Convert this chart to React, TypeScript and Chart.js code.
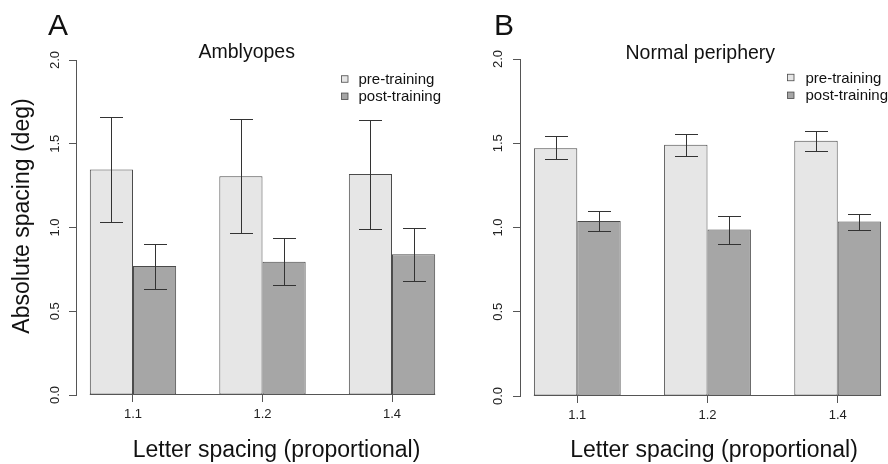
import React, { useEffect, useRef } from 'react';
import { Chart, registerables } from 'chart.js';

Chart.register(...registerables);

const FONT = "'Liberation Sans', Arial, Helvetica, sans-serif";

// ---------- data ----------
const categories = ['1.1', '1.2', '1.4'];
const seriesLabels = ['pre-training', 'post-training'];
const yTickValues = [0, 0.5, 1.0, 1.5, 2.0];
const panelLetters = ['A', 'B'];
const panelTitles = ['Amblyopes', 'Normal periphery'];
const xAxisTitle = 'Letter spacing (proportional)';
const yAxisTitle = 'Absolute spacing (deg)';

const amblyopesPre = [1.347, 1.306, 1.319];
const amblyopesPreLow = [1.031, 0.965, 0.993];
const amblyopesPreHigh = [1.658, 1.646, 1.644];
const amblyopesPost = [0.770, 0.796, 0.840];
const amblyopesPostLow = [0.633, 0.655, 0.683];
const amblyopesPostHigh = [0.903, 0.939, 0.999];

const peripheryPre = [1.471, 1.491, 1.515];
const peripheryPreLow = [1.404, 1.422, 1.453];
const peripheryPreHigh = [1.541, 1.556, 1.574];
const peripheryPost = [1.038, 0.988, 1.036];
const peripheryPostLow = [0.980, 0.903, 0.988];
const peripheryPostHigh = [1.095, 1.066, 1.081];

// ---------- style ----------
const PRE_COLOR = '#e6e6e6';
const POST_COLOR = '#a6a6a6';
const BAR_EDGE = '#4a4a4a';
const AXIS_COLOR = '#555555';
const ERR_COLOR = '#333333';
const TEXT_COLOR = '#111111';
const CAP = 11.5;
const CANVAS_W = 452;
const CANVAS_H = 464;

// bar layout in group units: each group = 2 bars + 1 gap
const groupCenter = (i: number) => 2 + 3 * i;
const X_MIN = 0.68;
const X_MAX = 3 * categories.length + 0.32;

interface PanelSpec {
  letter: string;
  title: string;
  pre: number[];
  post: number[];
  low: number[][];
  high: number[][];
  left: number;
  padTop: number;
  padRight: number;
  axisHeight: number;
  letterX: number;
  letterY: number;
  titleX: number;
  titleY: number;
  legSquareX: number;
  legTextX: number;
  legCenters: number[];
  legBaselines: number[];
  yLabelX: number;
  xTitleX: number;
  xTitleY: number;
  showYTitle: boolean;
}

const panels: PanelSpec[] = [
  {
    letter: panelLetters[0],
    title: panelTitles[0],
    pre: amblyopesPre,
    post: amblyopesPost,
    low: [amblyopesPreLow, amblyopesPostLow],
    high: [amblyopesPreHigh, amblyopesPostHigh],
    left: 0,
    padTop: 60,
    padRight: 3,
    axisHeight: 69,
    letterX: 48,
    letterY: 35,
    titleX: 246.7,
    titleY: 58.3,
    legSquareX: 341.5,
    legTextX: 358.5,
    legCenters: [79, 96.3],
    legBaselines: [83.5, 101],
    yLabelX: 55,
    xTitleX: 276.5,
    xTitleY: 457,
    showYTitle: true,
  },
  {
    letter: panelLetters[1],
    title: panelTitles[1],
    pre: peripheryPre,
    post: peripheryPost,
    low: [peripheryPreLow, peripheryPostLow],
    high: [peripheryPreHigh, peripheryPostHigh],
    left: 444,
    padTop: 59,
    padRight: 1,
    axisHeight: 68,
    letterX: 50,
    letterY: 34.5,
    titleX: 256.3,
    titleY: 59.3,
    legSquareX: 343.5,
    legTextX: 361.5,
    legCenters: [77.5, 95.3],
    legBaselines: [82.5, 100],
    yLabelX: 54,
    xTitleX: 270,
    xTitleY: 457,
    showYTitle: false,
  },
];

function makeDecor(p: PanelSpec) {
  return {
    id: 'decor' + p.letter,
    afterDatasetsDraw(chart: any) {
      const ctx = chart.ctx as CanvasRenderingContext2D;
      const ys = chart.scales.y;
      const metas = chart.data.datasets.map((_: any, i: number) => chart.getDatasetMeta(i));
      ctx.save();
      // baseline across the groups
      const first = metas[0].data[0];
      const lastMeta = metas[metas.length - 1];
      const last = lastMeta.data[lastMeta.data.length - 1];
      const y0 = Math.round(ys.getPixelForValue(0)) - 0.5;
      ctx.strokeStyle = AXIS_COLOR;
      ctx.lineWidth = 1;
      ctx.beginPath();
      ctx.moveTo(first.x - first.width / 2, y0);
      ctx.lineTo(last.x + last.width / 2, y0);
      ctx.stroke();
      // error bars
      ctx.strokeStyle = ERR_COLOR;
      p.low.forEach((lows, di) => {
        metas[di].data.forEach((bar: any, i: number) => {
          const x = Math.round(bar.x) + 0.5;
          const yh = Math.round(ys.getPixelForValue(p.high[di][i])) + 0.5;
          const yl = Math.round(ys.getPixelForValue(lows[i])) + 0.5;
          ctx.beginPath();
          ctx.moveTo(x, yh);
          ctx.lineTo(x, yl);
          ctx.moveTo(x - CAP, yh);
          ctx.lineTo(x + CAP, yh);
          ctx.moveTo(x - CAP, yl);
          ctx.lineTo(x + CAP, yl);
          ctx.stroke();
        });
      });
      ctx.restore();
    },
    afterDraw(chart: any) {
      const ctx = chart.ctx as CanvasRenderingContext2D;
      const ys = chart.scales.y;
      ctx.save();
      ctx.fillStyle = TEXT_COLOR;
      // panel letter
      ctx.font = `30px ${FONT}`;
      ctx.textAlign = 'left';
      ctx.textBaseline = 'alphabetic';
      ctx.fillText(p.letter, p.letterX, p.letterY);
      // title
      ctx.font = `19.5px ${FONT}`;
      ctx.textAlign = 'center';
      ctx.fillText(p.title, p.titleX, p.titleY);
      // legend
      const fills = [PRE_COLOR, POST_COLOR];
      seriesLabels.forEach((lab, i) => {
        const cy = p.legCenters[i];
        ctx.fillStyle = fills[i];
        ctx.fillRect(p.legSquareX, cy - 3.25, 6.5, 6.5);
        ctx.strokeStyle = BAR_EDGE;
        ctx.lineWidth = 0.8;
        ctx.strokeRect(p.legSquareX, cy - 3.25, 6.5, 6.5);
        ctx.fillStyle = TEXT_COLOR;
        ctx.font = `15px ${FONT}`;
        ctx.textAlign = 'left';
        ctx.fillText(lab, p.legTextX, p.legBaselines[i]);
      });
      // y tick labels (rotated)
      ctx.font = `13px ${FONT}`;
      ctx.textAlign = 'center';
      ctx.textBaseline = 'middle';
      ctx.fillStyle = '#222222';
      yTickValues.forEach((v) => {
        const py = ys.getPixelForValue(v);
        ctx.save();
        ctx.translate(p.yLabelX, py);
        ctx.rotate(-Math.PI / 2);
        ctx.fillText(v.toFixed(1), 0, 0);
        ctx.restore();
      });
      // axis titles
      ctx.fillStyle = TEXT_COLOR;
      ctx.font = `23px ${FONT}`;
      ctx.textAlign = 'center';
      ctx.textBaseline = 'alphabetic';
      ctx.fillText(xAxisTitle, p.xTitleX, p.xTitleY);
      if (p.showYTitle) {
        ctx.save();
        ctx.translate(23, 216);
        ctx.rotate(-Math.PI / 2);
        ctx.textBaseline = 'middle';
        ctx.fillText(yAxisTitle, 0, 0);
        ctx.restore();
      }
      ctx.restore();
    },
  };
}

function Panel({ p }: { p: PanelSpec }) {
  const ref = useRef<HTMLCanvasElement | null>(null);
  useEffect(() => {
    if (!ref.current) return;
    const chart = new Chart(ref.current, {
      type: 'bar',
      data: {
        datasets: [
          {
            label: seriesLabels[0],
            data: categories.map((_, i) => ({ x: groupCenter(i), y: p.pre[i] })),
            backgroundColor: PRE_COLOR,
            borderColor: BAR_EDGE,
            borderWidth: 1,
            borderSkipped: false,
            barPercentage: 1,
            categoryPercentage: 2 / 3,
          },
          {
            label: seriesLabels[1],
            data: categories.map((_, i) => ({ x: groupCenter(i), y: p.post[i] })),
            backgroundColor: POST_COLOR,
            borderColor: BAR_EDGE,
            borderWidth: 1,
            borderSkipped: false,
            barPercentage: 1,
            categoryPercentage: 2 / 3,
          },
        ],
      } as any,
      options: {
        responsive: false,
        animation: false,
        layout: { padding: { top: p.padTop, right: p.padRight, left: 0, bottom: 0 } },
        plugins: {
          legend: { display: false },
          tooltip: { enabled: false },
          title: { display: false },
        },
        scales: {
          x: {
            type: 'linear',
            min: X_MIN,
            max: X_MAX,
            offset: false,
            afterBuildTicks: (s: any) => {
              s.ticks = categories.map((_, i) => ({ value: groupCenter(i) }));
            },
            ticks: {
              autoSkip: false,
              maxRotation: 0,
              minRotation: 0,
              padding: 5,
              color: '#222222',
              font: { family: FONT, size: 13 },
              callback: (_v: any, i: number) => categories[i],
            },
            grid: {
              offset: false,
              drawOnChartArea: false,
              drawTicks: true,
              tickLength: 7,
              color: AXIS_COLOR,
            },
            border: { display: false },
            afterFit: (s: any) => {
              s.height = p.axisHeight;
            },
          },
          y: {
            type: 'linear',
            min: 0,
            max: 2,
            afterBuildTicks: (s: any) => {
              s.ticks = yTickValues.map((v) => ({ value: v }));
            },
            ticks: { display: false },
            grid: {
              offset: false,
              drawOnChartArea: false,
              drawTicks: true,
              tickLength: 7,
              color: AXIS_COLOR,
            },
            border: { display: true, color: AXIS_COLOR },
            afterFit: (s: any) => {
              s.width = 76;
            },
          },
        },
      } as any,
      plugins: [makeDecor(p)],
    });
    return () => chart.destroy();
  }, [p]);
  return (
    <canvas
      ref={ref}
      width={CANVAS_W}
      height={CANVAS_H}
      style={{ position: 'absolute', left: p.left, top: 0, width: CANVAS_W, height: CANVAS_H }}
    />
  );
}

export default function App() {
  return (
    <div
      style={{
        position: 'absolute',
        left: 0,
        top: 0,
        width: 888,
        height: 464,
        overflow: 'hidden',
        background: '#ffffff',
      }}
    >
      {panels.map((p) => (
        <Panel key={p.letter} p={p} />
      ))}
    </div>
  );
}
